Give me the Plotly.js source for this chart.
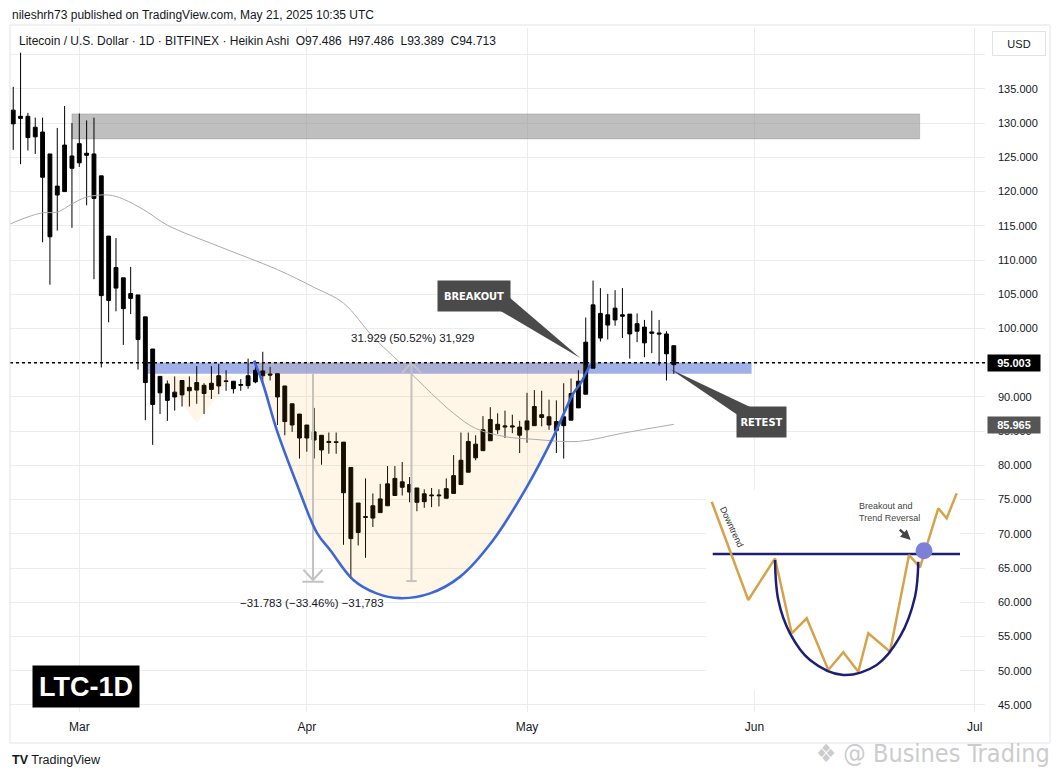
<!DOCTYPE html>
<html>
<head>
<meta charset="utf-8">
<script src="https://cdn.plot.ly/plotly-3.0.1.min.js"></script>
<style>html,body{margin:0;padding:0;background:#fff;}#chart{width:1060px;height:778px;}</style>
</head>
<body>
<div id="chart"></div>
<script>
// ---------- DATA ----------
const dates = [
'2025-02-20','2025-02-21','2025-02-22','2025-02-23','2025-02-24','2025-02-25','2025-02-26','2025-02-27','2025-02-28',
'2025-03-01','2025-03-02','2025-03-03','2025-03-04','2025-03-05','2025-03-06','2025-03-07','2025-03-08','2025-03-09','2025-03-10',
'2025-03-11','2025-03-12','2025-03-13','2025-03-14','2025-03-15','2025-03-16','2025-03-17','2025-03-18','2025-03-19','2025-03-20',
'2025-03-21','2025-03-22','2025-03-23','2025-03-24','2025-03-25','2025-03-26','2025-03-27','2025-03-28','2025-03-29','2025-03-30','2025-03-31',
'2025-04-01','2025-04-02','2025-04-03','2025-04-04','2025-04-05','2025-04-06','2025-04-07','2025-04-08','2025-04-09','2025-04-10',
'2025-04-11','2025-04-12','2025-04-13','2025-04-14','2025-04-15','2025-04-16','2025-04-17','2025-04-18','2025-04-19','2025-04-20',
'2025-04-21','2025-04-22','2025-04-23','2025-04-24','2025-04-25','2025-04-26','2025-04-27','2025-04-28','2025-04-29','2025-04-30',
'2025-05-01','2025-05-02','2025-05-03','2025-05-04','2025-05-05','2025-05-06','2025-05-07','2025-05-08','2025-05-09','2025-05-10',
'2025-05-11','2025-05-12','2025-05-13','2025-05-14','2025-05-15','2025-05-16','2025-05-17','2025-05-18','2025-05-19','2025-05-20','2025-05-21'
];
const openP = [
131.9,131.0,131.0,129.4,128.7,125.5,119.5,120.0,123.4,
124.2,125.6,125.5,122.3,113.5,108.9,107.4,105.1,104.9,101.7,97.0,93.0,91.9,90.7,90.3,91.4,91.0,91.7,91.1,91.6,92.35,92.3,91.7,91.65,92.2,93.1,93.35,93.4,91.6,89.0,87.5,
85.9,84.9,84.4,83.5,83.45,83.4,79.7,74.5,72.4,72.3,73.1,74.1,75.6,76.8,77.2,76.7,75.85,75.55,75.55,75.2,75.9,77.2,79.0,81.1,82.15,83.6,85.2,85.6,85.6,85.6,
85.2,85.8,87.0,87.1,86.4,85.8,86.6,88.4,90.4,94.2,102.2,100.5,101.25,102.0,102.1,100.7,100.2,99.5,99.35,99.2,97.486
];
const highP = [
135.3,140.3,131.5,130.8,130.8,125.5,129.3,132.5,130.0,
131.4,130.4,130.8,122.3,113.5,113.2,107.4,109.0,104.9,101.7,97.0,93.0,92.4,93.0,92.4,93.0,94.5,92.0,94.5,94.8,93.9,92.3,92.6,95.6,95.3,96.6,94.4,93.4,91.6,89.0,87.5,
85.9,88.4,84.4,84.8,84.8,83.4,79.7,74.5,78.1,75.9,77.3,79.9,79.9,80.5,78.3,76.7,76.5,76.7,76.5,78.1,81.5,84.8,84.8,84.4,87.2,88.5,87.6,88.0,87.4,86.5,
90.6,91.0,90.9,89.6,89.5,92.0,92.7,93.9,101.6,107.0,105.9,105.05,105.6,105.9,102.1,102.2,101.25,102.6,101.25,99.6,97.486
];
const lowP = [
126.1,124.0,126.0,125.5,112.6,106.4,114.3,120.0,114.7,
123.6,118.0,107.2,94.3,100.9,102.5,97.6,102.1,94.0,86.6,83.0,87.5,86.5,88.0,88.6,88.6,89.0,87.5,89.7,90.4,90.9,90.5,90.9,91.2,92.0,92.0,92.4,85.9,84.4,84.9,81.0,
82.0,81.0,80.1,81.7,81.7,68.4,63.4,68.3,66.5,71.0,73.1,74.1,75.6,75.6,74.6,73.3,73.8,73.9,74.0,75.2,75.9,77.2,79.0,80.75,82.15,83.6,84.6,84.0,84.7,81.8,
83.3,85.8,85.7,85.2,81.8,81.0,86.6,88.4,90.4,94.2,98.1,98.4,100.4,98.6,95.6,98.0,95.8,96.4,94.6,92.4,93.389
];
const closeP = [
129.9,130.7,127.9,128.0,122.1,113.4,120.8,126.8,125.2,
127.0,125.3,119.0,104.8,104.1,105.9,102.9,104.4,98.4,92.1,88.9,90.6,89.5,90.0,92.4,90.9,92.1,90.5,92.0,93.1,92.25,91.2,91.8,93.1,93.9,93.8,93.2,90.0,86.4,85.9,84.0,
84.0,83.7,82.25,83.35,83.35,76.0,69.3,70.2,72.5,74.1,75.1,77.3,78.1,77.6,76.1,74.6,74.7,75.65,75.65,76.6,78.5,80.75,83.5,83.1,85.2,86.7,86.0,85.75,85.75,84.4,
86.5,88.6,87.4,85.9,85.1,87.1,90.5,92.3,98.0,103.45,98.6,102.0,102.97,101.8,99.2,99.6,97.9,99.3,99.2,96.3,94.713
];
// moving average (grey line), read at sample dates
const maDates = ['2025-02-19','2025-02-22','2025-02-24','2025-02-26','2025-02-28','2025-03-02','2025-03-05','2025-03-07','2025-03-10','2025-03-13',
'2025-03-20','2025-03-28','2025-04-02','2025-04-06','2025-04-10','2025-04-14','2025-04-18','2025-04-21','2025-04-24','2025-04-28','2025-05-02','2025-05-08','2025-05-14','2025-05-21'];
const maValues = [115.0,116.3,116.9,117.0,118.2,119.2,119.5,118.9,117.2,115.1,112.0,108.6,106.0,103.7,98.8,94.7,90.5,87.6,85.4,84.2,83.8,83.5,84.7,86.0];

const lastPrice = 95.003;
const maLast = 85.965;
const priceTicks = [45,50,55,60,65,70,75,80,85,90,95,100,105,110,115,120,125,130,135,140];
const monthTicks = ['2025-03-01','2025-04-01','2025-05-01','2025-06-01','2025-07-01'];
const monthLabels = ['Mar','Apr','May','Jun','Jul'];

// drawings (day offsets from 1 Mar 2025, prices)
const cupDays   = [23.8,25.0,26.9,29.6,32.4,34.2,37.3,40.5,43.7,47.8,51.9,56.4,61.0,64.6,67.3,68.3,69.6];
const cupPrices = [95.3,92.0,85.2,77.4,70.1,67.6,63.3,61.3,60.6,61.3,63.75,69.1,76.9,84.2,90.5,92.0,94.7];
const handleDays = [11.2,16.0,21.0];
const handlePrices = [93.1,86.2,93.1];
const resistZone = {d0:-1.0, d1:114.5, p0:127.7, p1:131.35};
const supportZone = {d0:8.7, d1:91.6, p0:93.4, p1:95.0};
const downMeasure = {day:31.84, top:93.5, bottom:63.25, label:'\u221231.783 (\u221233.46%) \u221231,783', labelDay:31.7, labelPrice:59.9};
const upMeasure = {day:45.26, top:95.0, bottom:63.1, label:'31.929 (50.52%) 31,929', labelDay:45.35, labelPrice:98.6};
const breakoutTailDays = [56.94,58.7,68.25];
const breakoutTailPrices = [102.86,104.46,95.7];
const retestTailDays = [89.7,91.4,80.5];
const retestTailPrices = [87.37,88.54,94.09];

// inset cup & handle sketch (its own unit space)
const insetZigX = [711.7,748.3,775,791.7,806.7,828.3,843.3,858.3,868.3,890,909,920,938.3,946.7,956.7];
const insetZigY = [501.7,600,558.3,633.3,618.3,670,652.3,671.7,633.3,651.7,555,567.3,508.3,518.3,493.3];
const insetCupX = [775,778.3,790,810,843.3,876.7,900,915,918.3];
const insetCupY = [560,600,633.3,660,675,665,636.7,596.7,561.7];
const insetNeckX = [712.7,961];
const insetNeckY = [554,554];

// ---------- helpers ----------
const DAY = 864e5;
function D(d){ return new Date(Date.UTC(2025,2,1)+Math.round(d*DAY)).toISOString().slice(0,19).replace('T',' '); }

const FONT = 'Liberation Sans, Arial, sans-serif';
const NARROW = 'Liberation Sans Narrow, DejaVu Sans Condensed, Liberation Sans, sans-serif';
const TXT = '#131722';
const MEAS = '#c2c2c2';
const BEIGE = 'rgba(255,152,0,0.09)';

const traces = [];
traces.push({x:handleDays.map(D), y:handlePrices, type:'scatter', mode:'lines', fill:'toself',
  fillcolor:BEIGE, line:{width:0}, hoverinfo:'skip'});
traces.push({x:cupDays.map(D), y:cupPrices, type:'scatter', mode:'lines', fill:'toself',
  fillcolor:BEIGE, line:{width:0, shape:'spline'}, hoverinfo:'skip'});
traces.push({x:maDates, y:maValues, type:'scatter', mode:'lines', line:{color:'#ababab', width:1, shape:'spline', smoothing:1}, hoverinfo:'skip'});
function measure(m, arrowDown){
  const xs=[], ys=[];
  xs.push(D(m.day), D(m.day), null); ys.push(m.top, m.bottom, null);
  if(arrowDown){
    xs.push(D(m.day-1.3), D(m.day), D(m.day+1.3), null); ys.push(m.bottom+1.5, m.bottom, m.bottom+1.5, null);
    xs.push(D(m.day-1.45), D(m.day+1.45)); ys.push(m.bottom-0.25, m.bottom-0.25);
  } else {
    xs.push(D(m.day-1.3), D(m.day), D(m.day+1.3), null); ys.push(m.top-1.5, m.top, m.top-1.5, null);
    xs.push(D(m.day-0.7), D(m.day+0.7)); ys.push(m.bottom, m.bottom);
  }
  return {x:xs, y:ys, type:'scatter', mode:'lines', line:{color:MEAS, width:2}, hoverinfo:'skip', connectgaps:false};
}
traces.push(measure(downMeasure, true));
traces.push(measure(upMeasure, false));
traces.push({type:'candlestick', x:dates, open:openP, high:highP, low:lowP, close:closeP,
  increasing:{line:{color:'#000000', width:1}, fillcolor:'#000000'},
  decreasing:{line:{color:'#000000', width:1}, fillcolor:'#000000'},
  whiskerwidth:0, hoverinfo:'skip'});
traces.push({x:cupDays.map(D), y:cupPrices, type:'scatter', mode:'lines', line:{color:'#3d67d6', width:2.6, shape:'spline', smoothing:1}, hoverinfo:'skip'});
traces.push({x:breakoutTailDays.map(D), y:breakoutTailPrices, type:'scatter', mode:'lines', fill:'toself', fillcolor:'#4a4a4a', line:{width:0}, hoverinfo:'skip'});
traces.push({x:retestTailDays.map(D), y:retestTailPrices, type:'scatter', mode:'lines', fill:'toself', fillcolor:'#4a4a4a', line:{width:0}, hoverinfo:'skip'});
// inset sketch
traces.push({x:insetNeckX, y:insetNeckY, xaxis:'x2', yaxis:'y2', type:'scatter', mode:'lines', line:{color:'#1c1f78', width:2.5}, hoverinfo:'skip'});
traces.push({x:insetZigX, y:insetZigY, xaxis:'x2', yaxis:'y2', type:'scatter', mode:'lines', line:{color:'#d6a24a', width:2.5}, hoverinfo:'skip'});
traces.push({x:insetCupX, y:insetCupY, xaxis:'x2', yaxis:'y2', type:'scatter', mode:'lines', line:{color:'#1c1f78', width:2.5, shape:'spline'}, hoverinfo:'skip'});
traces.push({x:[924], y:[550.7], xaxis:'x2', yaxis:'y2', type:'scatter', mode:'markers', marker:{size:17, color:'#7c80d8'}, hoverinfo:'skip'});

// ---------- layout ----------
const L=10, R=75, T=28, B=66, W=1060, H=778;
const PW=W-L-R, PH=H-T-B;
const px = x => (x-L)/PW;          // pixel -> paper x
const py = y => (H-B-y)/PH;        // pixel -> paper y

const annotations = [
  {xref:'paper', yref:'paper', x:px(10), y:py(15), xanchor:'left', yanchor:'middle', showarrow:false,
   text:'nileshrh73 published on TradingView.com, May 21, 2025 10:35 UTC', font:{family:FONT, size:12, color:TXT}},
  {xref:'paper', yref:'paper', x:px(17), y:py(41), xanchor:'left', yanchor:'middle', showarrow:false,
   text:'Litecoin / U.S. Dollar \u00b7 1D \u00b7 BITFINEX \u00b7 Heikin Ashi\u00a0\u00a0O97.486\u00a0\u00a0H97.486\u00a0\u00a0L93.389\u00a0\u00a0C94.713', font:{family:FONT, size:12, color:TXT}},
  {xref:'paper', yref:'paper', x:px(1019), y:py(43.5), xanchor:'center', yanchor:'middle', showarrow:false, text:'USD', font:{family:FONT, size:11, color:TXT},
   bordercolor:'#e0e3eb', borderwidth:1, bgcolor:'#ffffff', width:48, height:19, borderpad:2},
  {xref:'paper', yref:'y', x:px(1014), y:lastPrice, xanchor:'center', yanchor:'middle', showarrow:false, text:'<b>95.003</b>', font:{family:FONT, size:11, color:'#ffffff'},
   bgcolor:'#000000', width:48, height:12, borderpad:2},
  {xref:'paper', yref:'y', x:px(1014), y:maLast, xanchor:'center', yanchor:'middle', showarrow:false, text:'<b>85.965</b>', font:{family:FONT, size:11, color:'#ffffff'},
   bgcolor:'#555555', width:48, height:12, borderpad:2},
  {xref:'x', yref:'y', x:D(upMeasure.labelDay), y:upMeasure.labelPrice, showarrow:false, text:upMeasure.label, font:{family:FONT, size:11.5, color:TXT}},
  {xref:'x', yref:'y', x:D(downMeasure.labelDay), y:downMeasure.labelPrice, showarrow:false, text:downMeasure.label, font:{family:FONT, size:11.5, color:TXT}},
  {xref:'x', yref:'y', x:D(53.8), y:104.75, showarrow:false, text:'<b>BREAKOUT</b>', font:{family:NARROW, size:11, color:'#ffffff'},
   bgcolor:'#4a4a4a', width:66, height:24, borderpad:3},
  {xref:'x', yref:'y', x:D(93.0), y:86.35, showarrow:false, text:'<b>RETEST</b>', font:{family:NARROW, size:11, color:'#ffffff'},
   bgcolor:'#4a4a4a', width:43, height:24, borderpad:3},
  {xref:'paper', yref:'paper', x:px(86), y:py(686.5), xanchor:'center', yanchor:'middle', showarrow:false, text:'<b>LTC-1D</b>', font:{family:FONT, size:27, color:'#ffffff'},
   bgcolor:'#000000', width:100, height:35, borderpad:3},
  {xref:'paper', yref:'paper', x:px(10), y:py(760), xanchor:'left', yanchor:'middle', showarrow:false, text:'<b>TV</b> TradingView', font:{family:FONT, size:12.5, color:TXT}},
  {xref:'paper', yref:'paper', x:px(1052), y:py(753), xanchor:'right', yanchor:'middle', showarrow:false, text:'\u2756 @ Busines Trading', font:{family:NARROW, size:25, color:'#cccccc'}},
  // inset texts
  {xref:'x2', yref:'y2', x:731.7, y:527, showarrow:false, text:'Downtrend', textangle:65, font:{family:FONT, size:9, color:'#333333'}},
  {xref:'x2', yref:'y2', x:856.7, y:512, xanchor:'left', yanchor:'middle', align:'left', showarrow:false, text:'Breakout and<br>Trend Reversal', font:{family:FONT, size:9, color:'#444444'}},
  {xref:'x2', yref:'y2', axref:'x2', ayref:'y2', x:910.7, y:540, ax:898.3, ay:528.3, showarrow:true, arrowhead:2, arrowsize:0.8, arrowwidth:2.5, arrowcolor:'#444444', text:''}
];

const shapes = [
  {type:'rect', xref:'x', yref:'y', x0:D(resistZone.d0), x1:D(resistZone.d1), y0:resistZone.p0, y1:resistZone.p1,
   fillcolor:'rgba(128,128,128,0.5)', line:{color:'rgba(128,128,128,0.35)', width:1}, layer:'between'},
  {type:'rect', xref:'x', yref:'y', x0:D(supportZone.d0), x1:D(supportZone.d1), y0:supportZone.p0, y1:supportZone.p1,
   fillcolor:'rgba(60,90,210,0.48)', line:{width:0}, layer:'between'},
  {type:'line', xref:'paper', yref:'y', x0:0, x1:1, y0:lastPrice, y1:lastPrice, line:{color:'#000000', width:1.6, dash:'dot'}, layer:'above'},
  {type:'rect', xref:'x2', yref:'y2', x0:706, x1:960, y0:490, y1:690, fillcolor:'#ffffff', line:{width:0}, layer:'between'},
  {type:'rect', xref:'paper', yref:'paper', x0:0, x1:px(1050), y0:py(743), y1:py(25), fillcolor:'rgba(0,0,0,0)', line:{color:'#e0e3eb', width:1}, layer:'above'}
];

const layout = {
  width:W, height:H, margin:{l:L, r:R, t:T, b:B, pad:0},
  paper_bgcolor:'#ffffff', plot_bgcolor:'#ffffff', showlegend:false, boxgap:0.25,
  font:{family:FONT, color:TXT},
  xaxis:{type:'date', range:[D(-9.44), D(123.4)], tickvals:monthTicks, ticktext:monthLabels,
    showgrid:true, gridcolor:'#ececec', gridwidth:1, zeroline:false, showline:false, ticks:'',
    tickfont:{family:FONT, size:12, color:TXT}, ticklabelstandoff:6, rangeslider:{visible:false}, fixedrange:true},
  yaxis:{side:'right', range:[43.97, 143.9], tickvals:priceTicks, ticktext:priceTicks.map(v => v===140 ? '' : v.toFixed(3)),
    showgrid:true, gridcolor:'#ececec', gridwidth:1, zeroline:false, showline:false, ticks:'',
    tickfont:{family:FONT, size:11, color:TXT}, ticklabelstandoff:12, fixedrange:true},
  xaxis2:{domain:[px(706), px(960)], range:[706, 960], anchor:'y2', visible:false, fixedrange:true},
  yaxis2:{domain:[py(690), py(490)], range:[690, 490], anchor:'x2', visible:false, fixedrange:true},
  annotations, shapes
};

Plotly.newPlot('chart', traces, layout, {displayModeBar:false, staticPlot:true});
</script>
</body>
</html>
